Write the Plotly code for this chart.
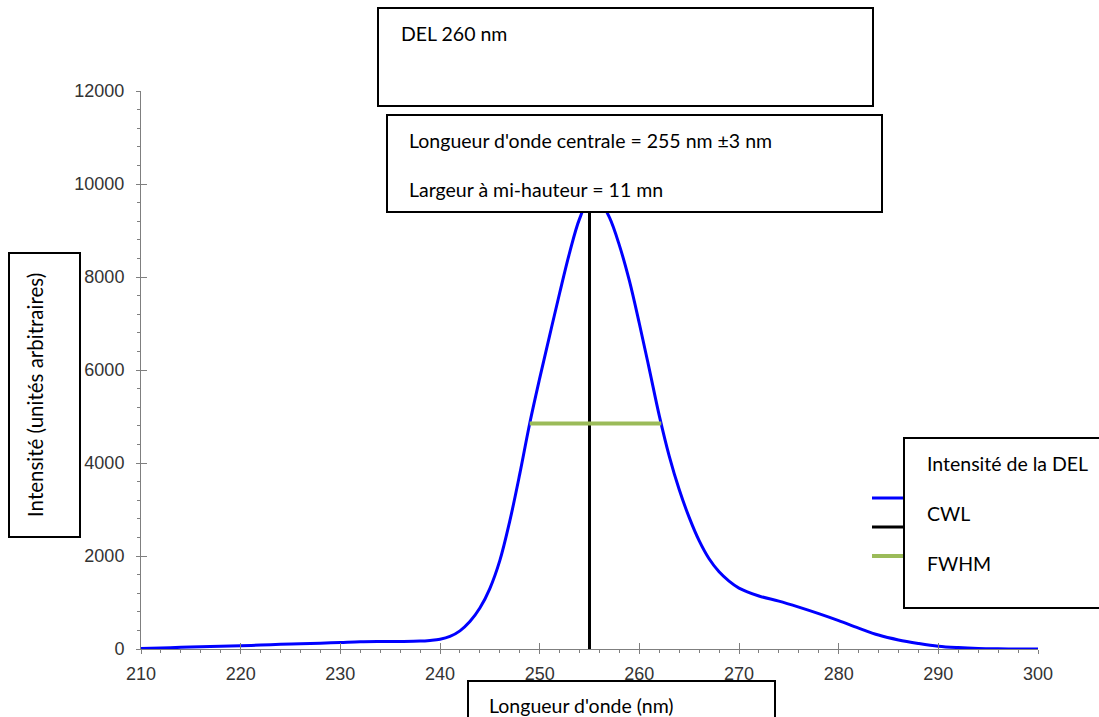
import plotly.graph_objects as go

# ---------------- data ----------------
wavelength = [210, 212, 214, 216, 218, 220, 222, 224, 226, 228, 230, 232, 234, 236, 238, 239,
              240, 241, 242, 243, 244, 245, 246, 247, 248, 249, 250, 251, 252, 253, 254, 255,
              256, 257, 258, 259, 260, 261, 262, 263, 264, 265, 266, 267, 268, 269, 270, 272,
              274, 276, 278, 280, 282, 284, 286, 288, 290, 292, 294, 296, 298, 300]
intensity = [10, 20, 35, 50, 60, 70, 85, 100, 115, 125, 140, 155, 160, 162, 170, 185,
             210, 270, 390, 590, 880, 1300, 1900, 2750, 3760, 4850, 5820, 6740, 7650, 8520, 9250, 9680,
             9640, 9280, 8680, 7920, 7000, 6020, 5020, 4150, 3430, 2830, 2330, 1940, 1660, 1460, 1310, 1140,
             1030, 900, 760, 610, 450, 300, 195, 120, 60, 30, 12, 4, 0, 0]
cwl_x = [255, 255]
cwl_y = [0, 9700]
fwhm_x = [249, 262.2]
fwhm_y = [4850, 4850]

x_ticks = [210, 220, 230, 240, 250, 260, 270, 280, 290, 300]
y_ticks = [0, 2000, 4000, 6000, 8000, 10000, 12000]

title_text = "DEL 260 nm"
info_lines = ["Longueur d'onde centrale = 255 nm ±3 nm", "Largeur à mi-hauteur = 11 mn"]
legend_labels = ["Intensité de la DEL", "CWL", "FWHM"]
y_label = "Intensité (unités arbitraires)"
x_label = "Longueur d'onde (nm)"

# ---------------- layout geometry (pixels) ----------------
W, H = 1099, 717
L, R, T, B = 141, 1038, 91, 649


def px(x):
    return (x - L) / (R - L)


def py(y):
    return (B - y) / (B - T)


BLUE = "#0000ff"
GREEN = "#9bbb59"
TEXT_FONT = dict(family="Lato, Carlito, Calibri, sans-serif", size=19.5, color="black")

fig = go.Figure()
fig.add_trace(go.Scatter(x=wavelength, y=intensity, mode="lines",
                         line=dict(color=BLUE, width=3, shape="spline", smoothing=1.0),
                         showlegend=False, hoverinfo="skip"))
fig.add_trace(go.Scatter(x=cwl_x, y=cwl_y, mode="lines",
                         line=dict(color="black", width=3), showlegend=False))
fig.add_trace(go.Scatter(x=fwhm_x, y=fwhm_y, mode="lines",
                         line=dict(color=GREEN, width=4), showlegend=False))
# invisible trace to activate overlay axes for crossing ticks
fig.add_trace(go.Scatter(x=[210], y=[0], xaxis="x2", yaxis="y2", mode="markers",
                         marker=dict(opacity=0), showlegend=False, hoverinfo="skip"))

axis_common = dict(showgrid=False, zeroline=False, showline=True, linecolor="#7f7f7f", linewidth=1,
                   tickcolor="#7f7f7f", tickwidth=1, tickformat="d",
                   tickfont=dict(family="Liberation Sans, Arial, sans-serif", size=18, color="#333333"))

shapes = []
annotations = []


def box(x0, y0, x1, y1):
    shapes.append(dict(type="rect", xref="paper", yref="paper", x0=px(x0), x1=px(x1),
                       y0=py(y1), y1=py(y0), line=dict(color="black", width=2),
                       fillcolor="white", layer="above"))


def text(x, y, s, angle=0, xanchor="left", size=None):
    f = dict(TEXT_FONT)
    if size:
        f["size"] = size
    annotations.append(dict(xref="paper", yref="paper", x=px(x), y=py(y), text=s, showarrow=False,
                            xanchor=xanchor, yanchor="middle", textangle=angle, font=f))


# legend sample lines (partly under the legend box)
for yy, col, w in [(498, BLUE, 3), (527, "black", 3), (556, GREEN, 4)]:
    shapes.append(dict(type="line", xref="paper", yref="paper", x0=px(872), x1=px(906),
                       y0=py(yy), y1=py(yy), line=dict(color=col, width=w), layer="above"))

box(378, 8, 873, 106)
text(399, 33, title_text)
box(387, 115, 882, 212)
text(407, 140, info_lines[0])
text(407, 190, info_lines[1])
box(904, 438, 1100, 608)
text(925, 463, legend_labels[0])
text(925, 513, legend_labels[1])
text(925, 563, legend_labels[2])
box(9, 253, 80, 537)
text(35, 395, y_label, angle=-90, xanchor="center", size=20.5)
box(468, 681, 775, 740)
text(487, 705, x_label)

fig.update_layout(
    width=W, height=H,
    margin=dict(l=L, r=W - R, t=T, b=H - B),
    paper_bgcolor="white", plot_bgcolor="white",
    showlegend=False,
    xaxis=dict(range=[210, 300], tickvals=x_ticks, ticks="outside", ticklen=4,
               minor=dict(dtick=2, ticks="outside", ticklen=3, tickcolor="#7f7f7f"),
               ticklabelstandoff=4, **axis_common),
    yaxis=dict(range=[0, 12000], tickvals=y_ticks, ticks="outside", ticklen=4,
               minor=dict(dtick=400, ticks="outside", ticklen=3, tickcolor="#7f7f7f"),
               ticklabelstandoff=8, **axis_common),
    xaxis2=dict(range=[210, 300], overlaying="x", tickvals=x_ticks, ticks="inside", ticklen=6,
                tickcolor="#7f7f7f", showticklabels=False, showgrid=False, zeroline=False,
                showline=False, side="bottom"),
    yaxis2=dict(range=[0, 12000], overlaying="y", tickvals=y_ticks, ticks="inside", ticklen=6,
                tickcolor="#7f7f7f", showticklabels=False, showgrid=False, zeroline=False,
                showline=False, side="left"),
    shapes=shapes, annotations=annotations,
)

fig.write_html("out.html")
